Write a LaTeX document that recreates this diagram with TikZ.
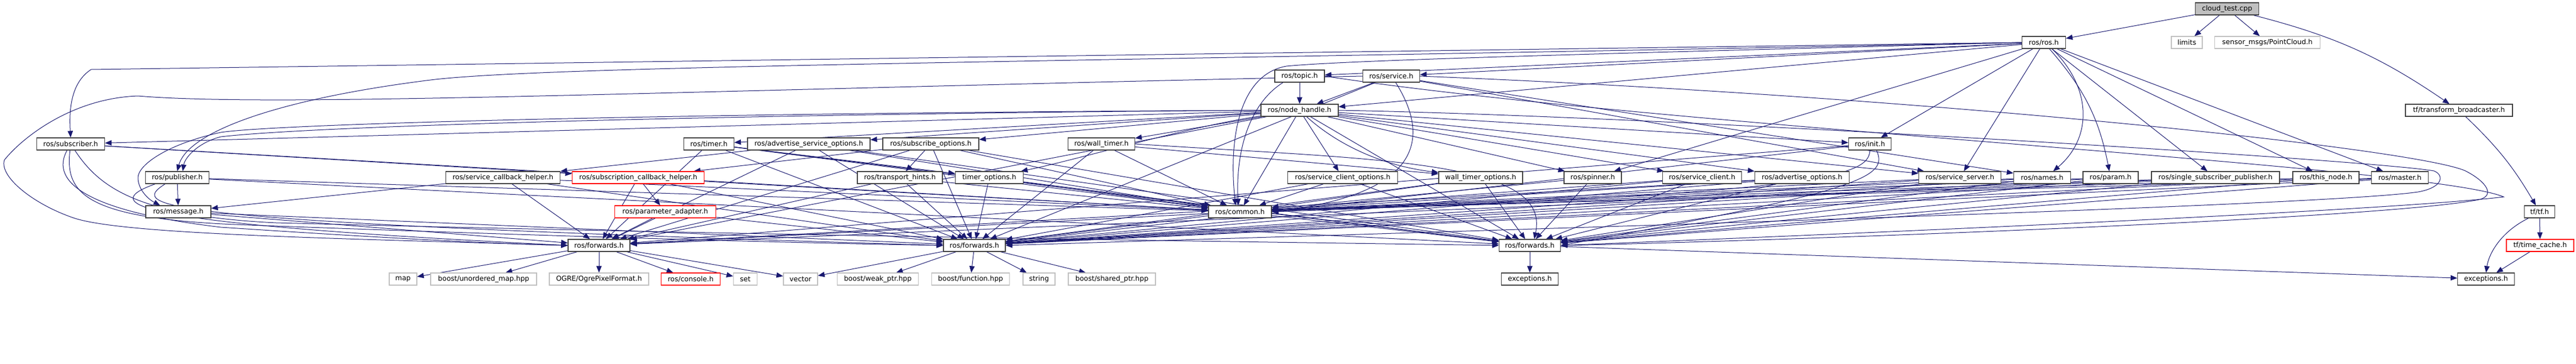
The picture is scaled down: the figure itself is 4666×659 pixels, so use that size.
\documentclass[tikz,border=0pt]{standalone}
\usepackage{fontspec}
\newfontfamily\dvs{DejaVu Sans}
\usetikzlibrary{arrows.meta}
\definecolor{edgeblue}{HTML}{191970}
\pgfdeclarelayer{bg}
\pgfsetlayers{bg,main}

\begin{document}
\begin{tikzpicture}[x=1pt, y=1pt]
        \tikzstyle{hdr} = [rectangle, draw=black!75, line width=1.2pt, fill=white, minimum height=22pt, inner xsep=2pt, inner ysep=0pt, text centered, font=\dvs\fontsize{12.5}{15}\selectfont]
        \tikzstyle{syshdr} = [hdr, draw=black!25]
        \tikzstyle{redhdr} = [hdr, draw=red]
        \tikzstyle{roothdr} = [hdr, fill=black!25]
        \tikzstyle{arrow} = [edgeblue, line width=1pt, -{Triangle[length=12pt, width=9.5pt]}]
        \useasboundingbox (0,0) rectangle (4666,-659);
        \node [roothdr, minimum width=115pt] (root) at (4034,-16) {cloud\_test.cpp};
	 \node [hdr, minimum width=79pt] (ros) at (3702,-77) {ros/ros.h};
	 \node [syshdr, minimum width=56pt] (limits) at (3961,-77) {limits};
	 \node [syshdr, minimum width=191pt] (pcl) at (4107,-77) {sensor\_msgs/PointCloud.h};
	 \node [hdr, minimum width=90pt] (topic) at (2354,-138) {ros/topic.h};
	 \node [hdr, minimum width=103pt] (service) at (2520,-138) {ros/service.h};
	 \node [hdr, minimum width=140pt] (nh) at (2354,-200) {ros/node\_handle.h};
	 \node [hdr, minimum width=194pt] (tfb) at (4454,-200) {tf/transform\_broadcaster.h};
	 \node [hdr, minimum width=123pt] (sub) at (128,-261) {ros/subscriber.h};
	 \node [hdr, minimum width=91pt] (timer) at (1284,-261) {ros/timer.h};
	 \node [hdr, minimum width=222pt] (adsrvopt) at (1465,-261) {ros/advertise\_service\_options.h};
	 \node [hdr, minimum width=174pt] (subopt) at (1686,-261) {ros/subscribe\_options.h};
	 \node [hdr, minimum width=121pt] (wtimer) at (1995,-261) {ros/wall\_timer.h};
	 \node [hdr, minimum width=77pt] (init) at (3387,-261) {ros/init.h};
	 \node [hdr, minimum width=115pt] (pub) at (321,-322) {ros/publisher.h};
	 \node [hdr, minimum width=207pt] (srvcb) at (911,-322) {ros/service\_callback\_helper.h};
	 \node [redhdr, minimum width=239pt] (subcb) at (1156,-322) {ros/subscription\_callback\_helper.h};
	 \node [hdr, minimum width=154pt] (hints) at (1630,-322) {ros/transport\_hints.h};
	 \node [hdr, minimum width=123pt] (topt) at (1792,-322) {timer\_options.h};
	 \node [hdr, minimum width=199pt] (scopt) at (2432,-322) {ros/service\_client\_options.h};
	 \node [hdr, minimum width=152pt] (wtopt) at (2682,-322) {wall\_timer\_options.h};
	 \node [hdr, minimum width=104pt] (spinner) at (2885,-322) {ros/spinner.h};
	 \node [hdr, minimum width=143pt] (sclient) at (3083,-322) {ros/service\_client.h};
	 \node [hdr, minimum width=171pt] (adopt) at (3264,-322) {ros/advertise\_options.h};
	 \node [hdr, minimum width=149pt] (ssrv) at (3550,-322) {ros/service\_server.h};
	 \node [hdr, minimum width=103pt] (names) at (3699,-322) {ros/names.h};
	 \node [hdr, minimum width=100pt] (param) at (3823,-322) {ros/param.h};
	 \node [hdr, minimum width=232pt] (ssp) at (4013,-322) {ros/single\_subscriber\_publisher.h};
	 \node [hdr, minimum width=120pt] (thisnode) at (4213,-322) {ros/this\_node.h};
	 \node [hdr, minimum width=103pt] (master) at (4347,-322) {ros/master.h};
	 \node [hdr, minimum width=118pt] (msg) at (323,-384) {ros/message.h};
	 \node [redhdr, minimum width=183pt] (padapt) at (1205,-384) {ros/parameter\_adapter.h};
	 \node [hdr, minimum width=114pt] (common) at (2246,-384) {ros/common.h};
	 \node [hdr, minimum width=55pt] (tf) at (4600,-384) {tf/tf.h};
	 \node [hdr, minimum width=112pt] (fwdA) at (1085,-445) {ros/forwards.h};
	 \node [hdr, minimum width=112pt] (fwdB) at (1765,-445) {ros/forwards.h};
	 \node [hdr, minimum width=111pt] (fwdC) at (2771,-445) {ros/forwards.h};
	 \node [redhdr, minimum width=122pt] (tcache) at (4601,-445) {tf/time\_cache.h};
	 \node [syshdr, minimum width=50pt] (map) at (730,-506) {map};
	 \node [syshdr, minimum width=192pt] (umap) at (876,-506) {boost/unordered\_map.hpp};
	 \node [syshdr, minimum width=180pt] (ogre) at (1085,-506) {OGRE/OgrePixelFormat.h};
	 \node [redhdr, minimum width=107pt] (console) at (1251,-506) {ros/console.h};
	 \node [syshdr, minimum width=43pt] (set) at (1350,-506) {set};
	 \node [syshdr, minimum width=62pt] (vector) at (1450,-506) {vector};
	 \node [syshdr, minimum width=147pt] (weak) at (1590,-506) {boost/weak\_ptr.hpp};
	 \node [syshdr, minimum width=141pt] (func) at (1758,-506) {boost/function.hpp};
	 \node [syshdr, minimum width=58pt] (string) at (1882,-506) {string};
	 \node [syshdr, minimum width=158pt] (shared) at (2014,-506) {boost/shared\_ptr.hpp};
	 \node [hdr, minimum width=103pt] (excA) at (2771,-506) {exceptions.h};
	 \node [hdr, minimum width=103pt] (excB) at (4503,-506) {exceptions.h};
     \begin{pgfonlayer}{bg}
     \draw[arrow] (root) to (ros);
     \draw[arrow] (root) to (limits);
     \draw[arrow] (root) to (pcl);
     \draw[arrow] (root) to[bend left=10] (tfb);
     \draw[arrow] (tfb) to[bend left=8] (tf);
     \draw[arrow] (tf) to (tcache);
     \draw[arrow] ([xshift=-20pt]tf.south) .. controls (4530,-420) and (4508,-460) .. (excB.north);
     \draw[arrow] (tcache) to (excB);
     \draw[arrow] (ros.west) -- (165,-126) .. controls (128,-150) and (125,-200) .. (sub.north);
     \draw[arrow] (ros.west) .. controls (2000,-112) and (1000,-118) .. (780,-145) .. controls (500,-180) and (340,-240) .. (pub.north);
     \draw[arrow] (ros) to (topic);
     \draw[arrow] (ros) to (service);
     \draw[arrow] (ros) to (nh);
     \draw[arrow] (ros) to (init);
     \draw[arrow] (ros) to (ssrv);
     \draw[arrow] ([xshift=15pt]ros.south) .. controls (3790,-160) and (3790,-250) .. ([xshift=20pt]names.north);
     \draw[arrow] (ros) to[bend left=15] (param);
     \draw[arrow] (ros) to (ssp);
     \draw[arrow] (ros) to (thisnode);
     \draw[arrow] (ros) to (master);
     \draw[arrow] (ros.west) .. controls (3000,-95) and (2450,-108) .. (2330,-120) .. controls (2245,-135) and (2225,-250) .. ([xshift=-8pt]common.north);
     \draw[arrow] (ros) to (spinner);
     \draw[arrow] (topic) to (nh);
     \draw[arrow] ([xshift=-30pt]topic.south) .. controls (2260,-190) and (2238,-280) .. ([xshift=-3pt]common.north);
     \draw[arrow] (topic.east) .. controls (3000,-230) and (4400,-300) .. (4535,-357) .. controls (4300,-385) and (3200,-430) .. (fwdC.east);
     \draw[arrow] (service) to (nh);
     \draw[arrow] ([xshift=8pt]service.south) .. controls (2585,-240) and (2590,-350) .. (common.east);
     \draw[arrow] (service) to (names);
     \draw[arrow] (service) to (ssrv);
     \draw[arrow] (service) to (fwdB);
     \draw[arrow] (service.west) .. controls (1200,-165) and (500,-195) .. (250,-174) .. controls (130,-178) and (40,-250) .. (8,-290) .. controls (-2,-320) and (60,-370) .. (133,-395) .. controls (220,-425) and (600,-432) .. (fwdA.west);
     \draw[arrow] (service.east) .. controls (3500,-175) and (4380,-270) .. (4466,-310) .. controls (4505,-330) and (4520,-355) .. (4490,-362) .. controls (4300,-400) and (3100,-440) .. (fwdC.east);
     \draw[arrow] (nh) to (sub);
     \draw[arrow] (nh.west) .. controls (1500,-205) and (600,-225) .. (400,-248) .. controls (360,-258) and (335,-285) .. ([xshift=10pt]pub.north);
     \draw[arrow] (nh) to (timer);
     \draw[arrow] (nh) to (adsrvopt);
     \draw[arrow] (nh) to (subopt);
     \draw[arrow] (nh) to (wtimer);
     \draw[arrow] (nh) to (init);
     \draw[arrow] (nh) .. controls (2150,-230) and (1950,-290) .. (topt);
     \draw[arrow] (nh) to (scopt);
     \draw[arrow] (nh) .. controls (2420,-260) and (2500,-300) .. (wtopt);
     \draw[arrow] (nh) to (spinner);
     \draw[arrow] (nh) to (sclient);
     \draw[arrow] (nh) to (adopt);
     \draw[arrow] (nh) to (ssrv);
     \draw[arrow] (nh.west) .. controls (1200,-205) and (500,-225) .. (400,-240) .. controls (300,-262) and (250,-300) .. (250,-322) .. controls (250,-345) and (270,-362) .. ([xshift=-33pt]msg.north);
     \draw[arrow] (nh) to (common);
     \draw[arrow] (nh) to (fwdA);
     \draw[arrow] (nh.east) .. controls (3000,-210) and (4300,-290) .. (4409,-310) .. controls (4428,-318) and (4425,-340) .. (4380,-348) .. controls (4200,-375) and (2600,-420) .. (fwdB.east);
     \draw[arrow] (nh) to (fwdC);
     \draw[arrow] (sub) to (common);
     \draw[arrow] (sub) to (subcb);
     \draw[arrow] (sub) .. controls (95,-320) and (130,-380) .. (400,-412) .. controls (700,-432) and (900,-442) .. (fwdA.west);
     \draw[arrow] (sub) .. controls (118,-350) and (150,-398) .. (450,-408) .. controls (900,-425) and (1400,-440) .. (fwdB.west);
     \draw[arrow] (sub) .. controls (180,-340) and (250,-392) .. (500,-404) .. controls (1500,-430) and (2400,-440) .. (fwdC.west);
     \draw[arrow] (pub) to (msg);
     \draw[arrow] (pub) to (common);
     \draw[arrow] ([xshift=-40pt]pub.south) .. controls (180,-370) and (220,-405) .. (fwdA.west);
     \draw[arrow] ([xshift=-22pt]pub.south) .. controls (235,-375) and (250,-402) .. (fwdB.west);
     \draw[arrow] (pub) to (fwdC);
     \draw[arrow] (timer) to (topt);
     \draw[arrow] (timer) to (common);
     \draw[arrow] (timer) to (fwdA);
     \draw[arrow] (timer) to (fwdB);
     \draw[arrow] (timer) to (fwdC);
     \draw[arrow] (adsrvopt) to (srvcb);
     \draw[arrow] (adsrvopt) to (common);
     \draw[arrow] (adsrvopt) to (fwdA);
     \draw[arrow] (adsrvopt) to (fwdB);
     \draw[arrow] (adsrvopt) to (fwdC);
     \draw[arrow] (subopt) to (hints);
     \draw[arrow] (subopt) to (subcb);
     \draw[arrow] (subopt) to (common);
     \draw[arrow] (subopt) to (fwdA);
     \draw[arrow] (subopt) to (fwdB);
     \draw[arrow] (subopt) to (fwdC);
     \draw[arrow] (wtimer) to (wtopt);
     \draw[arrow] (wtimer) to (common);
     \draw[arrow] (wtimer) to (fwdB);
     \draw[arrow] (wtimer.east) .. controls (2500,-290) and (2810,-290) .. ([xshift=8pt]fwdC.north);
     \draw[arrow] (init.south) .. controls (3385,-320) and (3300,-350) .. (common.east);
     \draw[arrow] ([xshift=12pt]init.south) .. controls (3420,-320) and (3380,-345) .. (fwdC.east);
     \draw[arrow] (init) to (fwdA);
     \draw[arrow] (init) to (fwdB);
     \draw[arrow] (srvcb) to (msg);
     \draw[arrow] (srvcb) to (common);
     \draw[arrow] (srvcb) to (fwdA);
     \draw[arrow] (srvcb) to (fwdB);
     \draw[arrow] (subcb) to (padapt);
     \draw[arrow] (subcb) to (common);
     \draw[arrow] (subcb) to (fwdA);
     \draw[arrow] (subcb) to (fwdB);
     \draw[arrow] (hints) to (common);
     \draw[arrow] (hints) to (fwdA);
     \draw[arrow] (hints) to (fwdB);
     \draw[arrow] (topt) to (common);
     \draw[arrow] (topt) to (fwdB);
     \draw[arrow] (topt) to (fwdC);
     \draw[arrow] (scopt) to (common);
     \draw[arrow] (scopt) to (fwdB);
     \draw[arrow] (scopt) to (fwdC);
     \draw[arrow] (wtopt) to (common);
     \draw[arrow] (wtopt) to (fwdB);
     \draw[arrow] (wtopt) to (fwdC);
     \draw[arrow] (spinner) to (common);
     \draw[arrow] (spinner) to (fwdC);
     \draw[arrow] (sclient) to (common);
     \draw[arrow] (sclient) to (fwdB);
     \draw[arrow] (sclient) to (fwdC);
     \draw[arrow] (adopt) to (common);
     \draw[arrow] (adopt) to (fwdA);
     \draw[arrow] (adopt) to (fwdB);
     \draw[arrow] (adopt) to (fwdC);
     \draw[arrow] (ssrv) to (common);
     \draw[arrow] (ssrv) to (fwdB);
     \draw[arrow] (ssrv) to (fwdC);
     \draw[arrow] (names) to (common);
     \draw[arrow] (names) to (fwdB);
     \draw[arrow] (names) to (fwdC);
     \draw[arrow] (param) to (common);
     \draw[arrow] (param) to (fwdB);
     \draw[arrow] (param) to (fwdC);
     \draw[arrow] (ssp) to (common);
     \draw[arrow] (ssp) to (fwdA);
     \draw[arrow] (ssp) to (fwdB);
     \draw[arrow] (ssp) to (fwdC);
     \draw[arrow] (thisnode) to (common);
     \draw[arrow] (thisnode) to (fwdB);
     \draw[arrow] (thisnode) to (fwdC);
     \draw[arrow] (master) to (common);
     \draw[arrow] (master) to (fwdB);
     \draw[arrow] (master) to (fwdC);
     \draw[arrow] (msg) to (fwdA);
     \draw[arrow] (msg) to (fwdB);
     \draw[arrow] (padapt) to (fwdA);
     \draw[arrow] (padapt) to (fwdB);
     \draw[arrow] (common) to (fwdA);
     \draw[arrow] (common) to (fwdB);
     \draw[arrow] (common) to (fwdC);
     \draw[arrow] (fwdA) to (map);
     \draw[arrow] (fwdA) to (umap);
     \draw[arrow] (fwdA) to (ogre);
     \draw[arrow] (fwdA) to (console);
     \draw[arrow] (fwdA) to (set);
     \draw[arrow] (fwdA) to (vector);
     \draw[arrow] (fwdB) to (vector);
     \draw[arrow] (fwdB) to (weak);
     \draw[arrow] (fwdB) to (func);
     \draw[arrow] (fwdB) to (string);
     \draw[arrow] (fwdB) to (shared);
     \draw[arrow] (fwdC) to (excA);
     \draw[arrow] (fwdC) to (excB);
     \end{pgfonlayer}
    \end{tikzpicture}
\end{document}
